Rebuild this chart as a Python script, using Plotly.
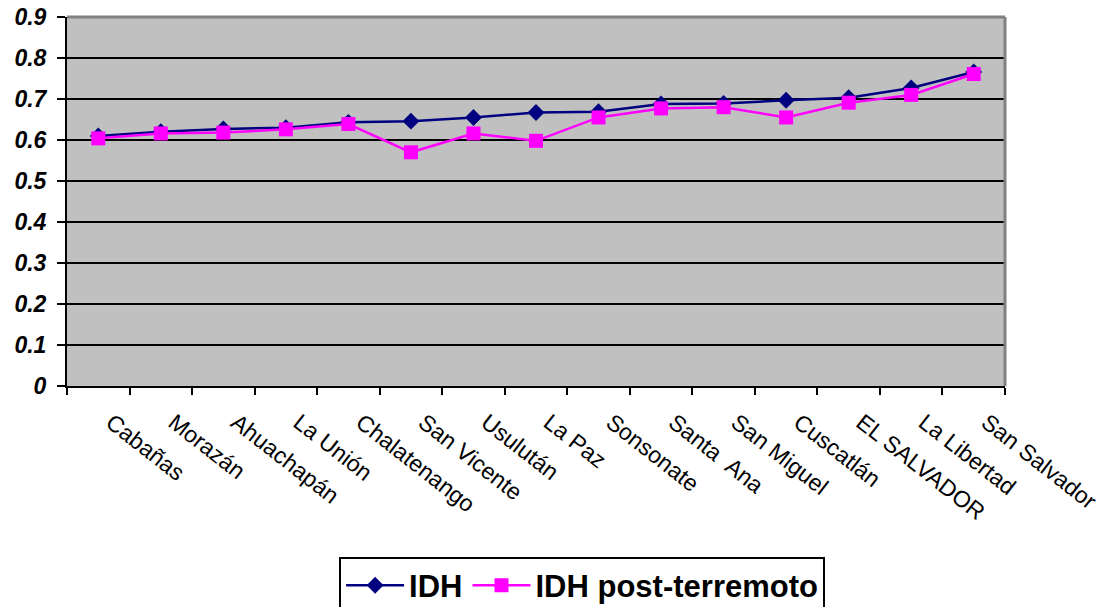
import plotly.graph_objects as go

categories = ["Cabañas", "Morazán", "Ahuachapán", "La Unión", "Chalatenango",
              "San Vicente", "Usulután", "La Paz", "Sonsonate", "Santa  Ana",
              "San Miguel", "Cuscatlán", "EL SALVADOR", "La Libertad", "San Salvador"]
idh = [0.610, 0.620, 0.627, 0.630, 0.643, 0.646, 0.655, 0.667, 0.669, 0.688,
       0.689, 0.697, 0.703, 0.727, 0.766]
idh_post = [0.604, 0.616, 0.618, 0.626, 0.639, 0.570, 0.616, 0.598, 0.655, 0.677,
            0.680, 0.655, 0.691, 0.710, 0.761]
y_ticks = [0, 0.1, 0.2, 0.3, 0.4, 0.5, 0.6, 0.7, 0.8, 0.9]
y_ticklabels = ["0", "0.1", "0.2", "0.3", "0.4", "0.5", "0.6", "0.7", "0.8", "0.9"]

FONT = "Arial, Liberation Sans, sans-serif"

fig = go.Figure()
fig.add_trace(go.Scatter(
    x=categories, y=idh, name="IDH", mode="lines+markers",
    line=dict(color="#000080", width=2.5),
    marker=dict(symbol="diamond", size=13, color="#000080"),
))
fig.add_trace(go.Scatter(
    x=categories, y=idh_post, name="IDH post-terremoto", mode="lines+markers",
    line=dict(color="#FF00FF", width=2.5),
    marker=dict(symbol="square", size=14, color="#FF00FF"),
))

fig.update_layout(
    width=1113, height=607,
    margin=dict(l=67, r=108, t=17, b=221, autoexpand=False),
    paper_bgcolor="white", plot_bgcolor="#C0C0C0",
    font=dict(family=FONT, color="black"),
    showlegend=True,
    legend=dict(
        orientation="h", xref="container", yref="container",
        x=0.523, xanchor="center", y=0.083, yanchor="top",
        font=dict(size=31, family=FONT, color="black", weight="bold"),
        bordercolor="black", borderwidth=2, bgcolor="white",
        itemwidth=58, tracegroupgap=0,
    ),
    shapes=[
        dict(type="line", xref="paper", yref="paper", x0=0, x1=1, y0=1, y1=1,
             line=dict(color="#808080", width=3), layer="above"),
        dict(type="line", xref="paper", yref="paper", x0=1, x1=1, y0=0, y1=1,
             line=dict(color="#808080", width=3), layer="above"),
    ],
)

fig.update_xaxes(
    type="category", range=[-0.5, len(categories) - 0.5],
    showgrid=False, showline=True, linecolor="black", linewidth=2,
    ticks="outside", tickson="boundaries", ticklen=7, tickwidth=2, tickcolor="black",
    tickangle=38, tickfont=dict(size=23, family=FONT, color="black"),
    ticklabelstandoff=12, ticklabelshift=13, automargin=False,
)
fig.update_yaxes(
    range=[0, 0.9], tickvals=y_ticks, ticktext=y_ticklabels,
    showgrid=True, gridcolor="black", gridwidth=2,
    showline=True, linecolor="black", linewidth=2,
    ticks="outside", ticklen=8, tickwidth=2, tickcolor="black",
    tickfont=dict(size=23, family=FONT, color="black", weight="bold", style="italic"),
    ticklabelstandoff=6, automargin=False,
    zeroline=False,
)

fig.write_html("out.html")
